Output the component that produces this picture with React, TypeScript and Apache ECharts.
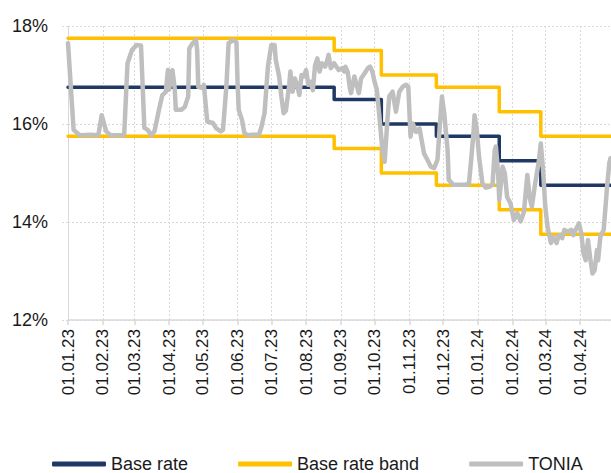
import React, { useEffect, useRef } from "react";
import * as echarts from "echarts";

// Policy rate decisions: effective date and level (%)
const baseRateDates = ["2023-01-01", "2023-08-26", "2023-10-07", "2023-11-25", "2024-01-20", "2024-02-26"];
const baseRateValues = [16.75, 16.5, 16.0, 15.75, 15.25, 14.75];
const bandUpperValues = [17.75, 17.5, 17.0, 16.75, 16.25, 15.75];
const bandLowerValues = [15.75, 15.5, 15.0, 14.75, 14.25, 13.75];

// Overnight TONIA fixings (%)
const toniaPoints: [string, number][] = [
  ["2023-01-01", 17.65], ["2023-01-06", 15.88], ["2023-01-10", 15.8], ["2023-01-12", 15.77],
  ["2023-01-21", 15.78], ["2023-01-28", 15.77], ["2023-01-31", 16.18], ["2023-02-04", 15.85],
  ["2023-02-08", 15.77], ["2023-02-20", 15.77], ["2023-02-23", 17.24], ["2023-02-27", 17.51],
  ["2023-03-03", 17.61], ["2023-03-07", 17.6], ["2023-03-10", 15.92], ["2023-03-13", 15.88],
  ["2023-03-16", 15.77], ["2023-03-19", 15.85], ["2023-03-23", 16.29], ["2023-03-26", 16.59],
  ["2023-03-29", 16.65], ["2023-03-31", 17.1], ["2023-04-01", 16.7], ["2023-04-04", 17.1],
  ["2023-04-06", 16.73], ["2023-04-07", 16.29], ["2023-04-12", 16.29], ["2023-04-15", 16.35],
  ["2023-04-18", 16.56], ["2023-04-19", 17.54], ["2023-04-22", 17.65], ["2023-04-25", 17.71],
  ["2023-04-26", 17.51], ["2023-04-27", 16.76], ["2023-05-01", 16.73], ["2023-05-02", 16.8],
  ["2023-05-04", 16.29], ["2023-05-05", 16.05], ["2023-05-10", 16.02], ["2023-05-13", 15.91],
  ["2023-05-17", 15.85], ["2023-05-19", 15.88], ["2023-05-22", 16.76], ["2023-05-24", 17.65],
  ["2023-05-28", 17.71], ["2023-05-31", 17.67], ["2023-06-01", 16.83], ["2023-06-02", 16.29],
  ["2023-06-05", 16.08], ["2023-06-07", 15.82], ["2023-06-10", 15.77], ["2023-06-14", 15.78],
  ["2023-06-20", 15.78], ["2023-06-22", 15.92], ["2023-06-25", 16.22], ["2023-06-28", 17.17],
  ["2023-07-01", 17.61], ["2023-07-04", 17.61], ["2023-07-05", 17.31], ["2023-07-08", 16.97],
  ["2023-07-10", 16.56], ["2023-07-12", 16.22], ["2023-07-14", 16.27], ["2023-07-17", 16.8],
  ["2023-07-18", 17.07], ["2023-07-20", 16.66], ["2023-07-22", 16.93], ["2023-07-24", 16.8],
  ["2023-07-26", 16.59], ["2023-07-28", 17.0], ["2023-07-30", 16.97], ["2023-08-01", 17.1],
  ["2023-08-03", 16.8], ["2023-08-05", 16.86], ["2023-08-07", 16.69], ["2023-08-09", 17.2],
  ["2023-08-11", 17.34], ["2023-08-13", 17.07], ["2023-08-15", 17.24], ["2023-08-18", 17.17],
  ["2023-08-20", 17.31], ["2023-08-21", 17.41], ["2023-08-23", 17.14], ["2023-08-26", 17.24],
  ["2023-08-28", 17.17], ["2023-08-30", 17.1], ["2023-09-02", 17.14], ["2023-09-04", 17.07],
  ["2023-09-05", 17.17], ["2023-09-07", 17.07], ["2023-09-09", 16.73], ["2023-09-10", 16.63],
  ["2023-09-13", 16.97], ["2023-09-15", 16.8], ["2023-09-17", 16.63], ["2023-09-19", 16.93],
  ["2023-09-22", 17.03], ["2023-09-25", 17.14], ["2023-09-27", 17.17], ["2023-09-29", 17.07],
  ["2023-10-01", 16.86], ["2023-10-03", 16.7], ["2023-10-05", 16.22], ["2023-10-08", 15.47],
  ["2023-10-10", 15.23], ["2023-10-12", 15.95], ["2023-10-14", 16.56], ["2023-10-17", 16.66],
  ["2023-10-20", 16.25], ["2023-10-23", 16.66], ["2023-10-26", 16.76], ["2023-10-29", 16.8],
  ["2023-10-31", 16.76], ["2023-11-02", 15.74], ["2023-11-04", 16.01], ["2023-11-07", 15.84],
  ["2023-11-10", 15.91], ["2023-11-14", 15.4], ["2023-11-17", 15.27], ["2023-11-20", 15.13],
  ["2023-11-23", 15.1], ["2023-11-26", 15.27], ["2023-11-28", 15.95], ["2023-11-30", 16.56],
  ["2023-12-02", 16.22], ["2023-12-05", 15.47], ["2023-12-06", 14.86], ["2023-12-10", 14.76],
  ["2023-12-21", 14.76], ["2023-12-24", 14.78], ["2023-12-26", 15.27], ["2023-12-28", 15.81],
  ["2023-12-29", 16.18], ["2023-12-31", 15.88], ["2024-01-02", 15.33], ["2024-01-05", 14.79],
  ["2024-01-08", 14.7], ["2024-01-11", 14.72], ["2024-01-14", 14.76], ["2024-01-16", 15.47],
  ["2024-01-17", 15.54], ["2024-01-19", 14.99], ["2024-01-20", 14.45], ["2024-01-23", 15.13],
  ["2024-01-25", 14.99], ["2024-01-27", 14.51], ["2024-01-30", 14.38], ["2024-02-02", 14.04],
  ["2024-02-05", 14.18], ["2024-02-08", 14.01], ["2024-02-11", 14.21], ["2024-02-14", 14.96],
  ["2024-02-16", 14.51], ["2024-02-18", 14.31], ["2024-02-21", 14.79], ["2024-02-24", 15.2],
  ["2024-02-26", 15.6], ["2024-02-28", 15.06], ["2024-03-01", 14.31], ["2024-03-03", 13.9],
  ["2024-03-06", 13.57], ["2024-03-08", 13.7], ["2024-03-11", 13.57], ["2024-03-13", 13.73],
  ["2024-03-16", 13.67], ["2024-03-18", 13.84], ["2024-03-21", 13.8], ["2024-03-24", 13.84],
  ["2024-03-26", 13.73], ["2024-03-28", 13.84], ["2024-03-31", 13.97], ["2024-04-02", 13.77],
  ["2024-04-04", 13.36], ["2024-04-06", 13.22], ["2024-04-08", 13.63], ["2024-04-10", 13.26],
  ["2024-04-12", 12.95], ["2024-04-14", 13.02], ["2024-04-16", 13.43], ["2024-04-17", 13.22],
  ["2024-04-19", 13.7], ["2024-04-22", 13.84], ["2024-04-25", 14.72], ["2024-04-27", 15.2],
  ["2024-04-28", 15.3],
];

const axisStart = "2023-01-01";
const axisEnd = "2024-04-28T12:00:00Z";
const yTicks = { min: 12, max: 18, interval: 2 };

const COLORS = { base: "#1F3864", band: "#FFC000", tonia: "#BFBFBF", grid: "#D9D9D9", text: "#1a1a1a" };
const FONT = "Liberation Sans, Arial, sans-serif";

const toTime = (d: string) => new Date(d.length === 10 ? d + "T00:00:00Z" : d).getTime();

// Step series: each level holds until the next decision, last level runs to the axis end
const stepData = (values: number[]) => {
  const pts: [number, number][] = baseRateDates.map((d, i) => [toTime(d), values[i]]);
  pts.push([toTime(axisEnd), values[values.length - 1]]);
  return pts;
};

const pad = (n: number) => (n < 10 ? "0" + n : "" + n);

export default function App() {
  const ref = useRef<HTMLDivElement>(null);

  useEffect(() => {
    if (!ref.current) return;
    const chart = echarts.init(ref.current, undefined, { renderer: "svg" });

    const lineSeries = (name: string, data: [number, number][], color: string, width: number, step: boolean, z: number) => ({
      name,
      type: "line",
      data,
      step: step ? "end" : false,
      showSymbol: false,
      symbol: "none",
      z,
      itemStyle: { color },
      lineStyle: { color, width, cap: "round", join: "round" },
      emphasis: { disabled: true },
    });

    chart.setOption({
      animation: false,
      useUTC: true,
      backgroundColor: "#ffffff",
      textStyle: { fontFamily: FONT },
      grid: { left: 68, right: 0, top: 26, bottom: 153, containLabel: false },
      legend: {
        left: 47,
        top: 450,
        itemGap: 50,
        itemWidth: 54,
        itemHeight: 5,
        icon: "roundRect",
        data: ["Base rate", "Base rate band", "TONIA"],
        textStyle: { fontSize: 18, color: COLORS.text, fontFamily: FONT },
      },
      xAxis: {
        type: "time",
        min: toTime(axisStart),
        max: toTime(axisEnd),
        minInterval: 28 * 86400000,
        maxInterval: 31 * 86400000,
        axisLine: { show: true, lineStyle: { color: COLORS.grid, width: 1.5 } },
        axisTick: { show: true, length: 5, lineStyle: { color: COLORS.grid, width: 1.5 } },
        splitLine: { show: true, lineStyle: { color: COLORS.grid, type: [2, 2], width: 1 } },
        axisLabel: {
          rotate: 90,
          margin: 9,
          fontSize: 17,
          color: COLORS.text,
          fontFamily: FONT,
          showMaxLabel: false,
          formatter: (v: number) => {
            const d = new Date(v);
            if (d.getUTCDate() !== 1) return "";
            return pad(d.getUTCDate()) + "." + pad(d.getUTCMonth() + 1) + "." + pad(d.getUTCFullYear() % 100);
          },
        },
      },
      yAxis: {
        type: "value",
        min: yTicks.min,
        max: yTicks.max,
        interval: yTicks.interval,
        axisLine: { show: true, lineStyle: { color: COLORS.grid, width: 1 } },
        axisTick: { show: true, length: 6, lineStyle: { color: COLORS.grid, type: [2, 2] } },
        splitLine: { show: true, lineStyle: { color: COLORS.grid, type: [2, 2], width: 1 } },
        axisLabel: {
          margin: 20,
          fontSize: 18,
          color: COLORS.text,
          fontFamily: FONT,
          formatter: (v: number) => v + "%",
        },
      },
      series: [
        lineSeries("Base rate band", stepData(bandUpperValues), COLORS.band, 3.5, true, 2),
        lineSeries("Base rate band", stepData(bandLowerValues), COLORS.band, 3.5, true, 2),
        lineSeries("Base rate", stepData(baseRateValues), COLORS.base, 3.5, true, 3),
        lineSeries("TONIA", toniaPoints.map(([d, v]) => [toTime(d), v] as [number, number]), COLORS.tonia, 4.5, false, 4),
      ],
    });

    return () => chart.dispose();
  }, []);

  return (
    <div
      ref={ref}
      style={{ position: "fixed", left: 0, top: 0, width: 611, height: 473, background: "#ffffff" }}
    />
  );
}
